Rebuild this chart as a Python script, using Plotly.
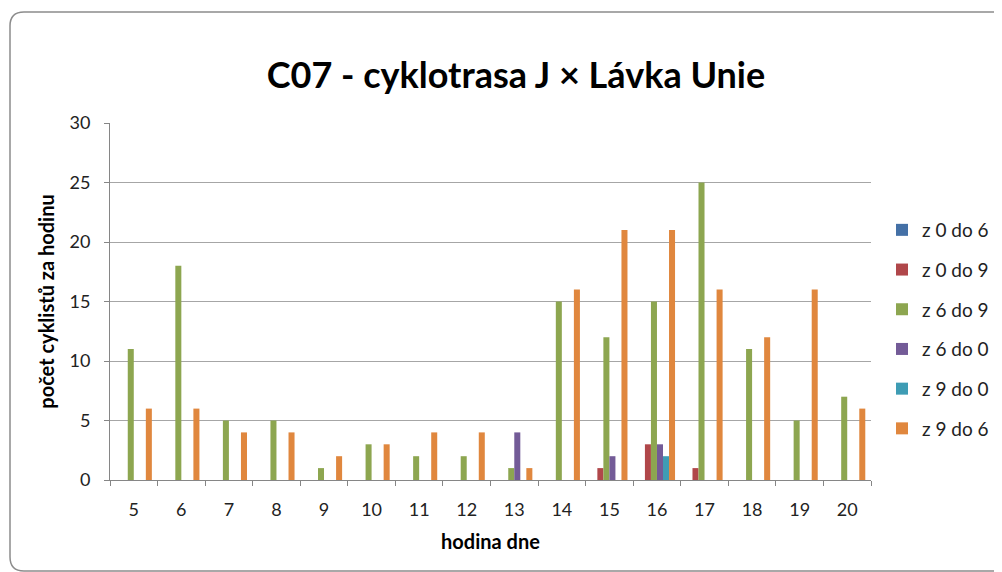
import plotly.graph_objects as go

hours = ["5", "6", "7", "8", "9", "10", "11", "12", "13", "14", "15", "16", "17", "18", "19", "20"]
series_names = ["z 0 do 6", "z 0 do 9", "z 6 do 9", "z 6 do 0", "z 9 do 0", "z 9 do 6"]
z0do6 = [0, 0, 0, 0, 0, 0, 0, 0, 0, 0, 0, 0, 0, 0, 0, 0]
z0do9 = [0, 0, 0, 0, 0, 0, 0, 0, 0, 0, 1, 3, 1, 0, 0, 0]
z6do9 = [11, 18, 5, 5, 1, 3, 2, 2, 1, 15, 12, 15, 25, 11, 5, 7]
z6do0 = [0, 0, 0, 0, 0, 0, 0, 0, 4, 0, 2, 3, 0, 0, 0, 0]
z9do0 = [0, 0, 0, 0, 0, 0, 0, 0, 0, 0, 0, 2, 0, 0, 0, 0]
z9do6 = [6, 6, 4, 4, 2, 3, 4, 4, 1, 16, 21, 21, 16, 12, 16, 6]
colors = ["#4470A6", "#B0474A", "#8DA650", "#735B97", "#3E9CB4", "#E0873E"]

FONT = "Lato"
fig = go.Figure()
for name, vals, col in zip(series_names, [z0do6, z0do9, z6do9, z6do0, z9do0, z9do6], colors):
    fig.add_trace(go.Bar(x=hours, y=vals, name=name, legendgroup=name,
                         marker=dict(color=col, line=dict(width=0))))

W, H = 1002, 572
L, T = 102, 115
PR, PB = 863, 472
R, B = W - PR, H - PB
pw, ph = PR - L, PB - T
def px(x):
    return (x - L) / pw
def py(y):
    return (PB - y) / ph

x0, x1, y0, y1 = px(2), px(1008), py(4), py(563)
rx, ry = 14 / pw, 14 / ph
path = (f"M {x0+rx} {y0} L {x1-rx} {y0} Q {x1} {y0} {x1} {y0-ry} "
        f"L {x1} {y1+ry} Q {x1} {y1} {x1-rx} {y1} L {x0+rx} {y1} "
        f"Q {x0} {y1} {x0} {y1+ry} L {x0} {y0-ry} Q {x0} {y0} {x0+rx} {y0} Z")

fig.update_layout(
    width=W, height=H,
    margin=dict(l=L, r=R, t=T, b=B, autoexpand=False),
    paper_bgcolor="white", plot_bgcolor="white",
    barmode="group", bargap=0.24, bargroupgap=0,
    font=dict(family=FONT, color="#222222"),
    title=dict(text="<b>C07 - cyklotrasa J × Lávka Unie</b>", x=508 / W, xanchor="center",
               y=1 - 67 / H, yanchor="middle", font=dict(size=36, family=FONT, color="black")),
    xaxis=dict(title=dict(text="<b>hodina dne</b>", font=dict(size=20, color="black"), standoff=16),
               type="category", tickson="boundaries", ticks="outside", ticklen=5,
               tickcolor="#868686", showline=True, linecolor="#868686", linewidth=1,
               tickfont=dict(size=18), ticklabelstandoff=13, showgrid=False),
    yaxis=dict(title=dict(text="<b>počet cyklistů za hodinu</b>", font=dict(size=20, color="black"), standoff=9),
               range=[0, 30], dtick=5, ticks="outside", ticklen=5, tickcolor="#868686",
               showline=True, linecolor="#868686", linewidth=1, ticklabelstandoff=10,
               gridcolor="#A6A6A6", gridwidth=1, tickfont=dict(size=18), zeroline=False),
    legend=dict(x=px(874), y=py(203), xanchor="left", yanchor="top",
                font=dict(size=19), tracegroupgap=12, itemwidth=30,
                bgcolor="rgba(0,0,0,0)"),
    shapes=[dict(type="path", path=path, xref="paper", yref="paper",
                 line=dict(color="#8C8C8C", width=1.5), fillcolor="rgba(0,0,0,0)", layer="below")],
)
fig.write_html("out.html")
